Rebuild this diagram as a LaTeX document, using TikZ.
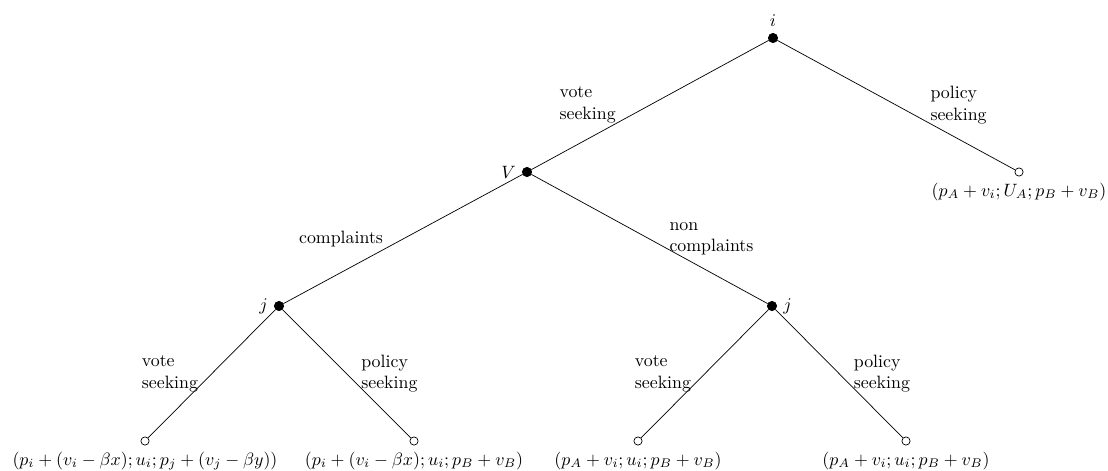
\documentclass[tikz,border=0pt]{standalone}
\usepackage{amsmath,amssymb}
\usetikzlibrary{positioning}
\tikzset{
  decnode/.style={circle,fill=black,draw=black,inner sep=0pt,minimum size=5.2pt},
  endnode/.style={circle,fill=white,draw=black,inner sep=0pt,minimum size=4.6pt},
  brlabel/.style={align=left,font=\normalsize,inner sep=0pt},
  branch/.style={thin},
}
\begin{document}
\begin{tikzpicture}[x=0.56pt,y=-0.56pt]
\useasboundingbox (0,0) rectangle (1108,470);
% Decision nodes
\node[decnode,label={above:$i$}] (i) at (773,38) {};
\node[decnode,label={left:$V$}] (V) at (527,172) {};
\node[decnode,label={left:$j$}] (jc) at (279,306) {};
\node[decnode,label={right:$j$}] (jn) at (772,306) {};
% Terminal nodes with payoffs
\node[endnode,label={below:$(p_A+v_i;U_A;p_B+v_B)$}] (ps) at (1019,172) {};
\node[endnode,label={below:$(p_i+(v_i-\beta x);u_i;p_j+(v_j-\beta y))$}] (cv) at (145,441) {};
\node[endnode,label={below:$(p_i+(v_i-\beta x);u_i;p_B+v_B)$}] (cp) at (414,441) {};
\node[endnode,label={below:$(p_A+v_i;u_i;p_B+v_B)$}] (nv) at (638,441) {};
\node[endnode,label={below:$(p_A+v_i;u_i;p_B+v_B)$}] (np) at (906,441) {};
% Branches
\draw[branch] (i) -- node[brlabel,left=19pt] {vote\\seeking} (V);
\draw[branch] (i) -- node[brlabel,right=19pt] {policy\\seeking} (ps);
\draw[branch] (V) -- node[brlabel,left=11pt] {complaints} (jc);
\draw[branch] (V) -- node[brlabel,right=11pt] {non\\complaints} (jn);
\draw[branch] (jc) -- node[brlabel,left=7.5pt] {vote\\seeking} (cv);
\draw[branch] (jc) -- node[brlabel,right=8pt] {policy\\seeking} (cp);
\draw[branch] (jn) -- node[brlabel,left=7.5pt] {vote\\seeking} (nv);
\draw[branch] (jn) -- node[brlabel,right=8pt] {policy\\seeking} (np);
\end{tikzpicture}
\end{document}
